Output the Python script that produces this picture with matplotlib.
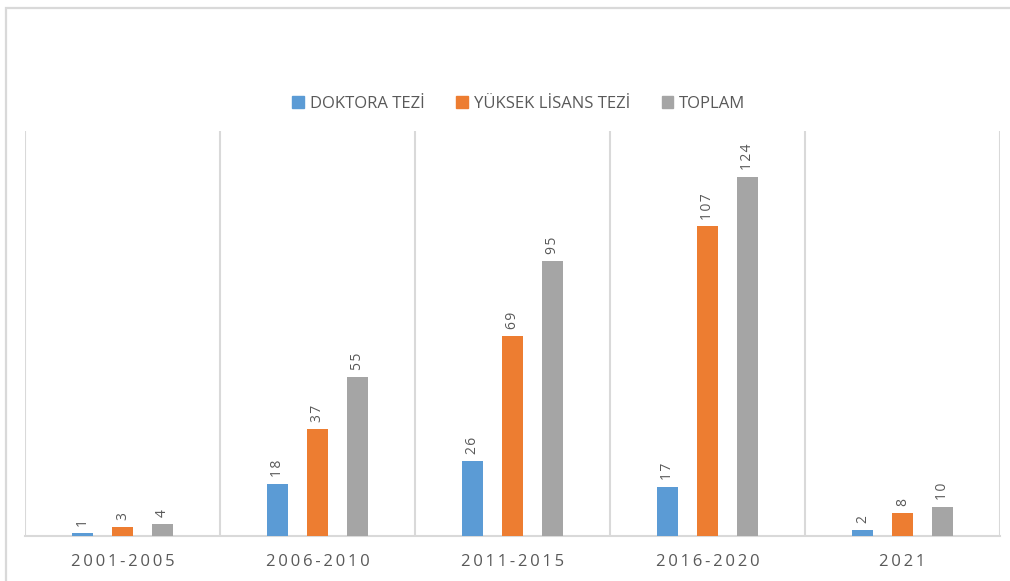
import matplotlib as mpl
mpl.use('Agg')

import matplotlib.pyplot as plt
from matplotlib.patches import Rectangle, Patch
import numpy

plt.rcParams['font.family'] = ['Open Sans', 'DejaVu Sans']

# %% data
periods = ['2001-2005', '2006-2010', '2011-2015', '2016-2020', '2021']
series_names = ['DOKTORA TEZİ', 'YÜKSEK LİSANS TEZİ', 'TOPLAM']
doktora = [1, 18, 26, 17, 2]
yuksek_lisans = [3, 37, 69, 107, 8]
toplam = [4, 55, 95, 124, 10]

colors = ['#5B9BD5', '#ED7D31', '#A5A5A5']
grid_col = '#D9D9D9'
text_col = '#595959'

# %% figure
fig = plt.figure(figsize=[10.1, 5.81], dpi=100)
W, H = 1010.0, 581.0

# outer chart frame (left/top edges)
fig.add_artist(Rectangle((6/W, -0.05), 1.1, (581-8)/H + 0.05, transform=fig.transFigure,
                         fill=False, edgecolor=grid_col, linewidth=1.6))

ax = fig.add_axes([25/W, (H-536)/H, (1000-25)/W, (536-131)/H])

x = numpy.arange(len(periods))
bw = 0.103
step = 0.205

for n, vals in enumerate([doktora, yuksek_lisans, toplam]):
    pos = x + (n - 1) * step
    ax.bar(pos, vals, width=bw, color=colors[n], label=series_names[n], zorder=3)
    for px, v in zip(pos, vals):
        ax.annotate('\u200a'.join(str(v)), (px, v), xytext=(0, 5), textcoords='offset points',
                    rotation=90, ha='center', va='bottom', fontsize=10, color=text_col)

ax.set_xlim(-0.5, len(periods) - 0.5)
ax.set_ylim(0, 140)

# vertical separators between periods
for b in numpy.arange(len(periods) + 1) - 0.5:
    ax.axvline(b, color=grid_col, linewidth=1.5, zorder=1)

for s in ['top', 'right', 'left']:
    ax.spines[s].set_visible(False)
ax.spines['bottom'].set_color(grid_col)
ax.spines['bottom'].set_linewidth(1.5)

ax.set_yticks([])
ax.set_xticks(x)
ax.set_xticklabels(['\u2009'.join(p) for p in periods], fontsize=12, color=text_col)
ax.tick_params(axis='x', length=0, pad=13)

handles = [Patch(color=c) for c in colors]
fig.legend(handles, series_names, loc='center', bbox_to_anchor=(519/W, (H-104)/H),
           ncol=3, frameon=False, fontsize=12, labelcolor=text_col,
           handlelength=0.7, handleheight=0.7, handletextpad=0.35, columnspacing=1.9)

plt.savefig('out.png', dpi=100)
